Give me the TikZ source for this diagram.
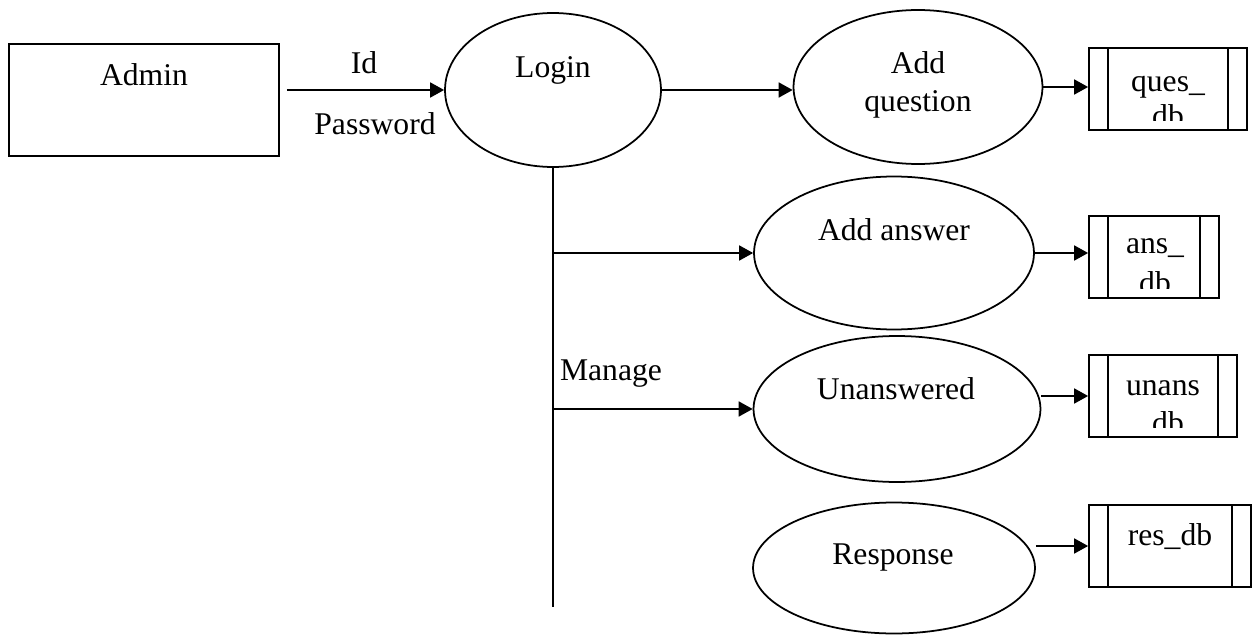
\documentclass[tikz,border=0pt]{standalone}
\usepackage{fontspec}
\setmainfont{Liberation Serif}
\usetikzlibrary{shapes.geometric,arrows.meta}

\tikzset{
  proc/.style={draw, ellipse, inner sep=0pt, line width=1pt},
  entity/.style={draw, rectangle, inner sep=0pt, line width=1pt},
  store/.style={draw, rectangle, inner sep=0pt, line width=1pt,
    minimum height=1.64cm, minimum width=#1,
    path picture={
      \draw[line width=1pt] ([xshift=0.38cm]path picture bounding box.north west)
        -- ([xshift=0.38cm]path picture bounding box.south west);
      \draw[line width=1pt] ([xshift=-0.38cm]path picture bounding box.north east)
        -- ([xshift=-0.38cm]path picture bounding box.south east);
    }},
  lbl/.style={font=\fontsize{18}{22}\selectfont, inner sep=0pt, anchor=base},
  flow/.style={line width=1pt, -{Triangle[length=0.28cm,width=0.3cm]}}
}

\begin{document}
\begin{tikzpicture}[x=0.02cm, y=-0.02cm]
    \useasboundingbox (0,0) rectangle (1255,635);

    % External entity
    \node[entity, minimum width=5.4cm, minimum height=2.24cm] (admin) at (144,100) {};
    \node[lbl] (adminlbl) at (144,86) {Admin};

    % Processes
    \node[proc, minimum width=4.32cm, minimum height=3.08cm] (login) at (553,90) {};
    \node[proc, minimum width=4.98cm, minimum height=3.08cm] (addq) at (918,87) {};
    \node[proc, minimum width=5.6cm, minimum height=3.06cm] (adda) at (894,253) {};
    \node[proc, minimum width=5.74cm, minimum height=2.92cm] (unans) at (897,409) {};
    \node[proc, minimum width=5.64cm, minimum height=2.62cm] (resp) at (894,568) {};

    \node[lbl] (loginlbl) at (553,78) {Login};
    \node[lbl] (addqlbl) at (918,74) {Add};
    \node[lbl] (addqlbl2) at (918,112) {question};
    \node[lbl] (addalbl) at (894,240) {Add answer};
    \node[lbl] (unanslbl) at (896,399) {Unanswered};
    \node[lbl] (resplbl) at (893,564) {Response};

    % Data stores
    \node[store=3.16cm] (quesdb) at (1168,89) {};
    \node[store=2.6cm] (ansdb) at (1154,257) {};
    \node[store=2.96cm] (unansdb) at (1163,396) {};
    \node[store=3.24cm] (resdb) at (1170,546) {};

    \node[lbl] (quesdblbl) at (1168,92) {ques\_};
    \node[lbl] (ansdblbl) at (1155,254) {ans\_};
    \node[lbl] (unansdblbl) at (1163,395) {unans};
    \node[lbl] (resdblbl) at (1170,545) {res\_db};

    % second lines, cut off by the store box
    \begin{scope}
        \clip (quesdb.north west) rectangle ([yshift=0.2cm]quesdb.south east);
        \node[lbl] (quesdblbl2) at (1168,127) {db};
    \end{scope}
    \begin{scope}
        \clip (ansdb.north west) rectangle ([yshift=0.2cm]ansdb.south east);
        \node[lbl] (ansdblbl2) at (1155,293) {db};
    \end{scope}
    \begin{scope}
        \clip (unansdb.north west) rectangle ([yshift=0.2cm]unansdb.south east);
        \node[lbl] (unansdblbl2) at (1168,433) {db};
    \end{scope}

    % Flows
    \draw[flow] ([xshift=0.14cm]admin.east |- login.west) -- (login.west);
    \node[lbl] (idlbl) at (364,74) {Id};
    \node[lbl] (pwlbl) at (375,134) {Password};

    \draw[flow] (login.east) -- (login.east -| addq.west);
    \draw[flow] (addq.east) -- (addq.east -| quesdb.west);

    \coordinate (trunkend) at (553,607);
    \draw[line width=1pt] (login.south) -- (trunkend);
    \draw[flow] (login.south |- adda.west) -- (adda.west);
    \draw[flow] (login.south |- unans.west) -- (unans.west);
    \node[lbl] (managelbl) at (611,380) {Manage};

    \draw[flow] (adda.east) -- (adda.east -| ansdb.west);
    \draw[flow] (unans.east |- unansdb.west) -- (unansdb.west);
    \draw[flow] (resp.east |- resdb.west) -- (resdb.west);

\end{tikzpicture}
\end{document}
